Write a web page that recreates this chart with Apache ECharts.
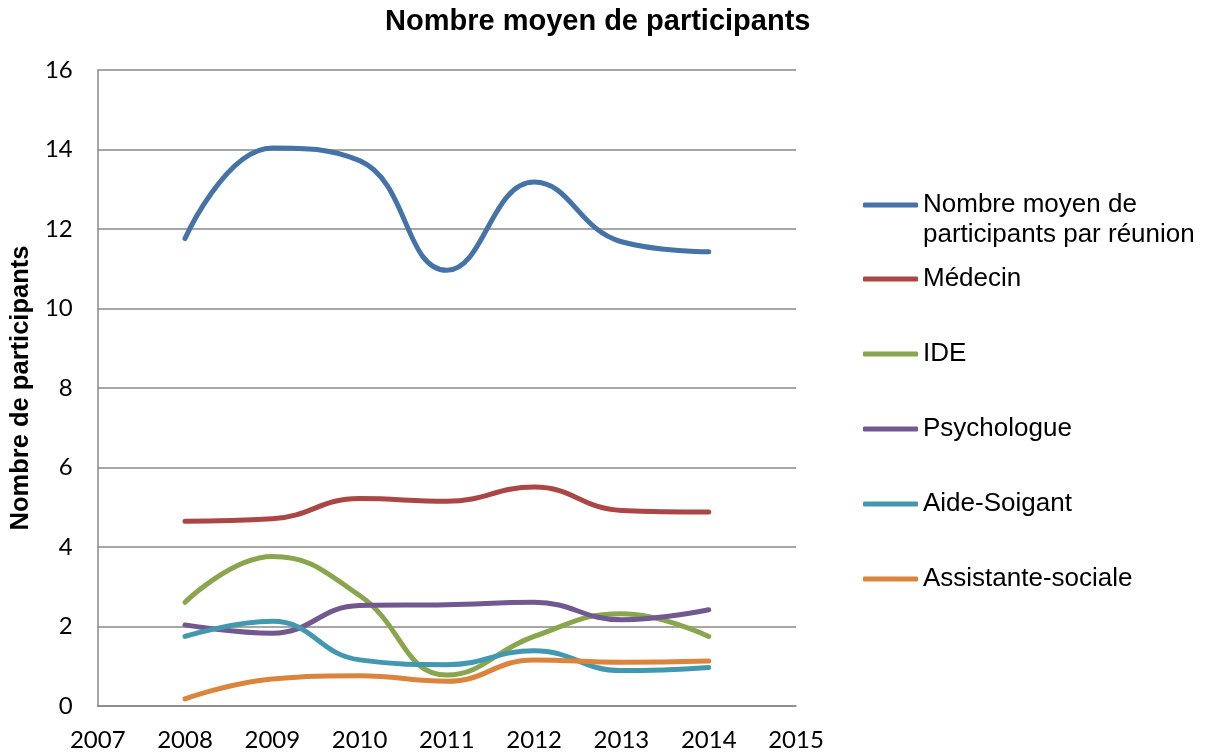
<!DOCTYPE html>
<html>
<head>
<meta charset="utf-8">
<script src="https://cdn.jsdelivr.net/npm/echarts@6/dist/echarts.min.js"></script>
<style>html,body{margin:0;padding:0;background:#fff;}#c{width:1213px;height:755px;}</style>
</head>
<body>
<div id="c"></div>
<script>
var years = [2008, 2009, 2010, 2011, 2012, 2013, 2014];
var seriesNames = ['Nombre moyen de participants par réunion', 'Médecin', 'IDE', 'Psychologue', 'Aide-Soigant', 'Assistante-sociale'];
var moyenne = [11.76, 14.04, 13.72, 10.96, 13.18, 11.68, 11.43];
var medecin = [4.65, 4.71, 5.22, 5.15, 5.51, 4.92, 4.88];
var ide = [2.61, 3.76, 2.78, 0.78, 1.75, 2.32, 1.75];
var psychologue = [2.04, 1.83, 2.53, 2.55, 2.61, 2.17, 2.42];
var aideSoignant = [1.75, 2.13, 1.16, 1.04, 1.39, 0.89, 0.97];
var assistante = [0.18, 0.68, 0.76, 0.62, 1.16, 1.10, 1.13];
var colors = ['#4572A7', '#AA4643', '#89A54E', '#71588F', '#4198AF', '#DB843D'];
var allData = [moyenne, medecin, ide, psychologue, aideSoignant, assistante];

function pairs(arr) { return years.map(function (y, i) { return [y, arr[i]]; }); }

var chart = echarts.init(document.getElementById('c'));
chart.setOption({
  animation: false,
  title: {
    text: 'Nombre moyen de participants',
    left: 380, top: 2,
    textStyle: { fontFamily: 'Liberation Sans', fontSize: 29, fontWeight: 'bold', color: '#000' }
  },
  grid: { left: 97, right: 417, top: 70, bottom: 49 },
  xAxis: {
    type: 'value', min: 2007, max: 2015, interval: 1,
    axisLine: { show: true, lineStyle: { color: '#888', width: 1.5 } },
    axisTick: { show: false },
    splitLine: { show: false },
    axisLabel: { margin: 22, fontFamily: 'Lato', fontSize: 24, color: '#000', formatter: function (v) { return String(v); } }
  },
  yAxis: {
    type: 'value', min: 0, max: 16, interval: 2,
    name: 'Nombre de participants', nameLocation: 'middle', nameGap: 61,
    nameTextStyle: { fontFamily: 'Liberation Sans', fontSize: 25.5, fontWeight: 'bold', color: '#000' },
    axisLine: { show: true, lineStyle: { color: '#888', width: 1.5 } },
    axisTick: { show: false },
    splitLine: { show: true, lineStyle: { color: '#888', width: 1.5 } },
    axisLabel: { margin: 25, fontFamily: 'Lato', fontSize: 24, color: '#000' }
  },
  legend: [{
    orient: 'vertical', left: 858, top: 155,
    data: [seriesNames[0]],
    icon: 'roundRect', itemWidth: 55, itemHeight: 5,
    formatter: function () { return '\nNombre moyen de\nparticipants par réunion'; },
    textStyle: { fontFamily: 'Liberation Sans', fontSize: 26, color: '#000', lineHeight: 30 }
  }, {
    orient: 'vertical', left: 858, top: 259,
    data: seriesNames.slice(1),
    icon: 'roundRect', itemWidth: 55, itemHeight: 5, itemGap: 45,
    textStyle: { fontFamily: 'Liberation Sans', fontSize: 26, color: '#000', lineHeight: 30 }
  }],
  series: allData.map(function (d, i) {
    return {
      name: seriesNames[i], type: 'line', smooth: 0.45,
      data: pairs(d), showSymbol: false, symbol: 'none',
      lineStyle: { width: 5, color: colors[i], cap: 'round' },
      itemStyle: { color: colors[i] }
    };
  })
});
</script>
</body>
</html>
